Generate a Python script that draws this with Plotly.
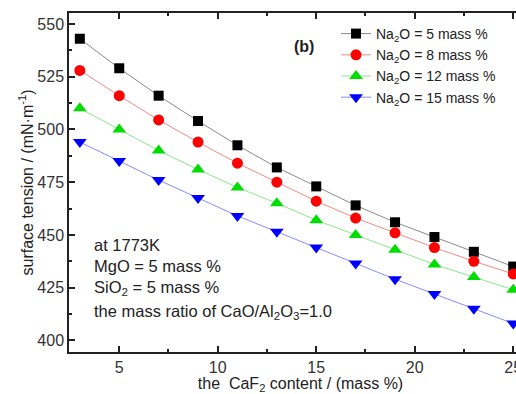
import plotly.graph_objects as go

caf2 = [3, 5, 7, 9, 11, 13, 15, 17, 19, 21, 23, 25]
na2o_5 = [543, 529, 516, 504, 492.5, 482, 473, 464, 456, 449, 442, 435]
na2o_8 = [528, 516, 504.5, 494, 484, 475, 466, 458, 451, 444, 437.5, 431.5]
na2o_12 = [510, 500, 490, 481, 472.5, 465, 457, 450, 443, 436, 430, 424]
na2o_15 = [494, 485, 476, 467.5, 459, 451.5, 444, 436.5, 429, 422, 415, 408]

series = [
    ("Na<sub>2</sub>O = 5 mass %", na2o_5, "square", "#000000", "#8a8a8a", 10),
    ("Na<sub>2</sub>O = 8 mass %", na2o_8, "circle", "#ff0000", "#f08a8a", 11),
    ("Na<sub>2</sub>O = 12 mass %", na2o_12, "triangle-up", "#00dd00", "#8ae88a", 12),
    ("Na<sub>2</sub>O = 15 mass %", na2o_15, "triangle-down", "#0000ff", "#8a8aff", 12),
]

fig = go.Figure()
for name, ys, sym, mc, lc, sz in series:
    fig.add_trace(go.Scatter(
        x=caf2, y=ys, name=name, mode="lines+markers", cliponaxis=False,
        line=dict(color=lc, width=1),
        marker=dict(symbol=sym, color=mc, size=sz, line=dict(width=0)),
    ))

font = "Arial, Liberation Sans, sans-serif"
axis_common = dict(
    showline=True, linecolor="#222", linewidth=1.5, mirror="ticks",
    ticks="inside", ticklen=6, tickcolor="#222", tickwidth=1.5,
    showgrid=False, zeroline=False, automargin=False,
    tickfont=dict(family=font, size=16, color="#333"),
)

# the original chart is cropped on the right: the plot extends past the window edge
FIG_W, FIG_H = 532, 394
L, T, B = 69, 13, 42
W = FIG_W - L
H = FIG_H - T - B

fig.update_xaxes(
    range=[2.45, 2.45 + W / 19.7], tickvals=[5, 10, 15, 20, 25],
    minor=dict(tickvals=[7.5, 12.5, 17.5, 22.5], ticks="inside", ticklen=3, tickcolor="#222", tickwidth=1.5),
    title=dict(text="the  CaF<sub>2</sub> content / (mass %)", font=dict(family=font, size=16, color="#222"), standoff=2),
    ticklabelstandoff=0, ticklabeloverflow="allow",
    **axis_common,
)
fig.update_yaxes(
    range=[394.5, 555.2], tickvals=[400, 425, 450, 475, 500, 525, 550],
    minor=dict(tickvals=[412.5, 437.5, 462.5, 487.5, 512.5, 537.5], ticks="inside", ticklen=3, tickcolor="#222", tickwidth=1.5),
    title=dict(text="surface tension / (mN·m<sup>-1</sup>)", font=dict(family=font, size=16, color="#222"), standoff=0),
    **axis_common,
)

def px(xp):
    return (xp - L) / W

def py(yp):
    return 1 - (yp - T) / H

fig.add_annotation(xref="paper", yref="paper", x=px(304), y=py(47),
                   text="<b>(b)</b>", showarrow=False, font=dict(family=font, size=16, color="#222"),
                   xanchor="center", yanchor="middle")
notes = [
    ("at 1773K", 245),
    ("MgO = 5 mass %", 266),
    ("SiO<sub>2</sub> = 5 mass %", 288),
    ("the mass ratio of CaO/Al<sub>2</sub>O<sub>3</sub>=1.0", 312),
]
for txt, ypx in notes:
    fig.add_annotation(xref="paper", yref="paper", x=px(92), y=py(ypx),
                       text=txt, showarrow=False, font=dict(family=font, size=16.5, color="#222"),
                       xanchor="left", yanchor="middle")

fig.update_layout(
    width=FIG_W, height=FIG_H,
    margin=dict(l=L, r=0, t=T, b=B, autoexpand=False),
    paper_bgcolor="white", plot_bgcolor="white",
    showlegend=True,
    legend=dict(x=px(336), y=py(18), xanchor="left", yanchor="top",
                font=dict(family=font, size=14, color="#222"), bgcolor="rgba(0,0,0,0)",
                tracegroupgap=0, itemwidth=30),
    font=dict(family=font),
)

fig.write_html("out.html", config={"displayModeBar": False},
               post_script="document.body.style.margin='0px';document.body.style.overflow='hidden';")
